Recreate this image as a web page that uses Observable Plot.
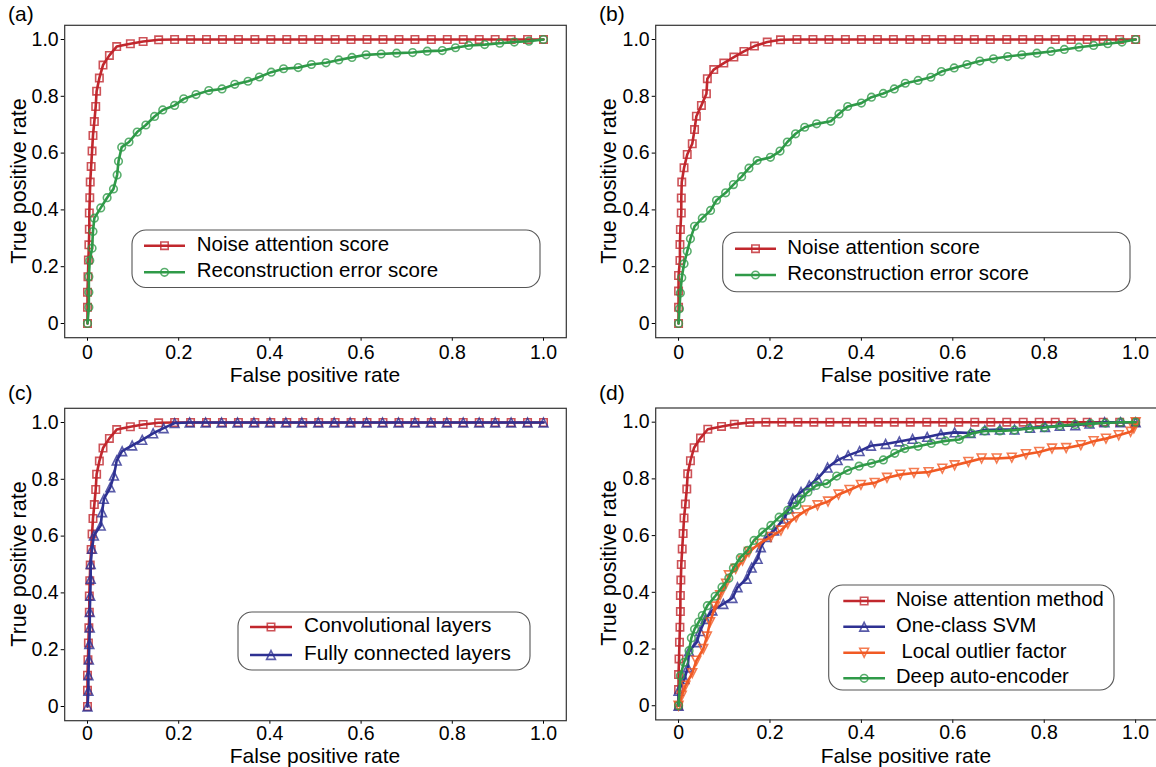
<!DOCTYPE html>
<html><head><meta charset="utf-8">
<script src="https://cdn.jsdelivr.net/npm/d3@7"></script>
<script src="https://cdn.jsdelivr.net/npm/@observablehq/plot@0.6"></script>
<style>
html,body{margin:0;padding:0;background:#fff;}
#root{position:relative;width:1156px;height:767px;overflow:hidden;font-family:"Liberation Sans",Arial,sans-serif;}
</style></head><body><div id="root"></div>
<script>
// ---------- data ----------
const xTicks = [0, 0.2, 0.4, 0.6, 0.8, 1.0];
const yTicks = [0, 0.2, 0.4, 0.6, 0.8, 1.0];

// Noise attention score (panels a, c, d)
const noiseX = [0,0,0,0.001,0.002,0.003,0.004,0.004,0.005,0.006,0.008,0.010,0.012,0.015,0.018,0.020,0.026,0.034,0.048,0.064,0.094,0.122,0.156,0.191,0.226,0.261,0.296,0.331,0.367,0.402,0.437,0.472,0.507,0.543,0.578,0.613,0.648,0.683,0.718,0.754,0.789,0.824,0.859,0.894,0.929,0.965,1.000];
const noiseY = [0,0.057,0.110,0.165,0.224,0.277,0.332,0.389,0.443,0.498,0.553,0.607,0.662,0.711,0.764,0.818,0.864,0.910,0.944,0.975,0.985,0.993,0.999,1,1,1,1,1,1,1,1,1,1,1,1,1,1,1,1,1,1,1,1,1,1,1,1];
// Reconstruction error score (panel a)
const recAX = [0,0.003,0.003,0.003,0.005,0.010,0.012,0.015,0.029,0.043,0.057,0.065,0.068,0.075,0.091,0.109,0.128,0.147,0.165,0.191,0.211,0.238,0.266,0.295,0.323,0.352,0.377,0.403,0.430,0.462,0.491,0.523,0.551,0.580,0.611,0.644,0.678,0.713,0.745,0.778,0.807,0.836,0.871,0.904,0.936,0.968,1.000];
const recAY = [0,0.057,0.110,0.165,0.222,0.265,0.324,0.371,0.407,0.443,0.474,0.523,0.571,0.621,0.639,0.674,0.699,0.729,0.752,0.768,0.791,0.806,0.820,0.826,0.842,0.853,0.868,0.885,0.897,0.901,0.912,0.918,0.928,0.937,0.946,0.949,0.952,0.954,0.959,0.961,0.971,0.979,0.982,0.987,0.991,0.994,1.000];
// Noise attention score (panel b)
const noiseBX = [0,0,0,0,0.003,0.003,0.004,0.006,0.006,0.007,0.012,0.019,0.030,0.035,0.039,0.050,0.061,0.063,0.077,0.099,0.121,0.143,0.166,0.194,0.223,0.259,0.294,0.329,0.365,0.400,0.435,0.470,0.506,0.541,0.576,0.612,0.647,0.682,0.718,0.753,0.788,0.824,0.859,0.894,0.929,0.965,1.000];
const noiseBY = [0,0.057,0.114,0.169,0.222,0.278,0.331,0.389,0.442,0.498,0.548,0.595,0.633,0.683,0.730,0.768,0.809,0.862,0.894,0.917,0.938,0.958,0.977,0.991,0.999,1,1,1,1,1,1,1,1,1,1,1,1,1,1,1,1,1,1,1,1,1,1];
// Reconstruction error score (panel b)
const recBX = [0,0.002,0.004,0.007,0.012,0.019,0.026,0.035,0.052,0.070,0.083,0.103,0.120,0.138,0.154,0.172,0.201,0.222,0.238,0.256,0.276,0.302,0.333,0.351,0.370,0.400,0.422,0.448,0.472,0.496,0.524,0.552,0.575,0.603,0.631,0.659,0.689,0.720,0.751,0.784,0.815,0.844,0.876,0.908,0.939,0.970,1.000];
const recBY = [0,0.052,0.107,0.161,0.210,0.254,0.298,0.342,0.371,0.398,0.434,0.460,0.489,0.517,0.547,0.574,0.585,0.607,0.639,0.668,0.691,0.703,0.712,0.738,0.764,0.776,0.797,0.810,0.826,0.846,0.856,0.867,0.887,0.900,0.912,0.924,0.932,0.940,0.946,0.952,0.958,0.965,0.973,0.979,0.985,0.991,1.000];
// Fully connected layers (panel c)
const fcX = [0,0.002,0.002,0.003,0.004,0.005,0.005,0.006,0.007,0.007,0.010,0.014,0.029,0.032,0.036,0.050,0.058,0.064,0.076,0.098,0.120,0.144,0.167,0.191,0.224,0.259,0.294,0.329,0.365,0.400,0.435,0.470,0.506,0.541,0.576,0.612,0.647,0.682,0.718,0.753,0.788,0.824,0.859,0.894,0.929,0.965,1.000];
const fcY = [0,0.055,0.110,0.165,0.220,0.278,0.333,0.390,0.450,0.502,0.555,0.602,0.637,0.684,0.731,0.772,0.813,0.866,0.899,0.919,0.939,0.962,0.980,0.998,1,1,1,1,1,1,1,1,1,1,1,1,1,1,1,1,1,1,1,1,1,1,1];
// One-class SVM (panel d)
const svmX = [0,0,0.013,0.020,0.023,0.040,0.047,0.059,0.074,0.098,0.118,0.129,0.149,0.160,0.173,0.180,0.193,0.209,0.231,0.242,0.250,0.268,0.286,0.304,0.326,0.348,0.371,0.396,0.421,0.453,0.483,0.512,0.544,0.574,0.604,0.639,0.670,0.703,0.735,0.769,0.802,0.834,0.868,0.899,0.932,0.967,1.000];
const svmY = [0,0.053,0.094,0.135,0.192,0.224,0.263,0.306,0.336,0.359,0.380,0.418,0.448,0.487,0.518,0.559,0.595,0.618,0.660,0.695,0.730,0.754,0.777,0.801,0.840,0.866,0.883,0.898,0.917,0.923,0.932,0.941,0.948,0.958,0.964,0.962,0.972,0.974,0.974,0.980,0.983,0.987,0.989,0.995,1.000,1.000,1.000];
// Local outlier factor (panel d)
const lofX = [0,0.007,0.015,0.030,0.039,0.054,0.062,0.069,0.080,0.091,0.104,0.110,0.125,0.140,0.154,0.176,0.202,0.224,0.239,0.257,0.279,0.304,0.327,0.350,0.374,0.399,0.429,0.456,0.485,0.515,0.547,0.577,0.604,0.634,0.663,0.696,0.729,0.760,0.789,0.817,0.848,0.880,0.908,0.935,0.963,0.989,0.996,1.000];
const lofY = [0,0.035,0.071,0.115,0.159,0.200,0.244,0.295,0.350,0.390,0.430,0.460,0.483,0.512,0.542,0.571,0.595,0.618,0.642,0.665,0.689,0.707,0.720,0.745,0.761,0.779,0.786,0.804,0.815,0.821,0.824,0.836,0.848,0.860,0.872,0.872,0.875,0.887,0.895,0.907,0.909,0.919,0.933,0.942,0.954,0.966,0.978,1.000];
// Deep auto-encoder (panel d)
const daeX = [0,0.004,0.012,0.023,0.028,0.035,0.044,0.052,0.063,0.080,0.095,0.110,0.120,0.135,0.151,0.165,0.184,0.202,0.220,0.239,0.259,0.268,0.283,0.301,0.324,0.346,0.370,0.395,0.422,0.448,0.473,0.495,0.524,0.553,0.584,0.614,0.641,0.670,0.703,0.735,0.767,0.800,0.834,0.868,0.901,0.934,0.967,1.000];
const daeY = [0,0.106,0.153,0.194,0.239,0.270,0.295,0.318,0.353,0.386,0.418,0.450,0.486,0.522,0.548,0.583,0.612,0.636,0.665,0.689,0.707,0.730,0.754,0.777,0.783,0.810,0.830,0.845,0.855,0.867,0.890,0.907,0.915,0.925,0.934,0.939,0.960,0.969,0.969,0.972,0.978,0.981,0.987,0.992,0.995,0.997,1.000,1.000];

// ---------- styles ----------
const FONT = '"Liberation Sans", Arial, sans-serif';
const RED = "#c1272d", GREEN = "#2f9a48", NAVY = "#2e3192", ORANGE = "#f15a24";
const tickLabel = d => d === 0 ? "0" : d.toFixed(1);

function sym(kind) {
  return {draw(ctx, size) {
    const h = Math.sqrt(size / Math.PI);
    if (kind === "square") ctx.rect(-h, -h, 2 * h, 2 * h);
    else if (kind === "circle") { ctx.moveTo(h, 0); ctx.arc(0, 0, h, 0, 2 * Math.PI); }
    else if (kind === "up") { ctx.moveTo(0, -h); ctx.lineTo(h, h); ctx.lineTo(-h, h); ctx.closePath(); }
    else if (kind === "down") { ctx.moveTo(0, h); ctx.lineTo(h, -h); ctx.lineTo(-h, -h); ctx.closePath(); }
  }};
}
const SER = {
  noise: (x, y) => ({x, y, color: RED, marker: "square", r: 3.7}),
  rec: (x, y) => ({x, y, color: GREEN, marker: "circle", r: 3.8}),
  fc: (x, y) => ({x, y, color: NAVY, marker: "up", r: 4.4}),
  lof: (x, y) => ({x, y, color: ORANGE, marker: "down", r: 4.4})
};

const root = document.getElementById("root");

function panel(g, series) {
  const marks = [
    Plot.axisX({ticks: xTicks, tickFormat: tickLabel, tickSize: 3.5, tickPadding: g.xPad, fontSize: 19.5, label: null}),
    Plot.axisY({ticks: yTicks, tickFormat: tickLabel, tickSize: 3.5, tickPadding: 2.5, fontSize: 19.5, label: null})
  ];
  for (const s of series) {
    const rows = s.x.map((x, i) => ({fpr: x, tpr: s.y[i]}));
    marks.push(Plot.line(rows, {x: "fpr", y: "tpr", stroke: s.color, strokeWidth: 2.6}));
    marks.push(Plot.dot(rows, {x: "fpr", y: "tpr", symbol: sym(s.marker), r: s.r, stroke: s.color, strokeWidth: 1.6, strokeOpacity: 0.8, fill: "none"}));
  }
  marks.push(Plot.frame({stroke: "#333", strokeWidth: 1.2}));
  const svg = Plot.plot({
    width: g.width, height: g.height,
    marginLeft: g.mL, marginRight: g.mR, marginTop: g.mT, marginBottom: g.mB,
    x: {domain: [-0.05, 1.05]}, y: {domain: [-0.05, 1.05]},
    style: {fontFamily: FONT, fontSize: "19.5px", color: "#000", background: "transparent", overflow: "visible"},
    marks
  });
  svg.style.position = "absolute";
  svg.style.left = g.left + "px";
  svg.style.top = g.top + "px";
  root.appendChild(svg);
}

panel({left: 0, top: 0, width: 580, height: 383, mL: 64.2, mR: 14.2, mT: 24.8, mB: 45.8, xPad: 4},
  [SER.noise(noiseX, noiseY), SER.rec(recAX, recAY)]);
panel({left: 580, top: 0, width: 578, height: 383, mL: 75.2, mR: 0, mT: 24.8, mB: 45.8, xPad: 4},
  [SER.noise(noiseBX, noiseBY), SER.rec(recBX, recBY)]);
panel({left: 0, top: 383, width: 580, height: 384, mL: 64.2, mR: 14.2, mT: 24.8, mB: 46.8, xPad: 2},
  [SER.noise(noiseX, noiseY), SER.fc(fcX, fcY)]);
panel({left: 580, top: 383, width: 578, height: 384, mL: 75.2, mR: 0, mT: 24.5, mB: 47.6, xPad: 2},
  [SER.noise(noiseX, noiseY), SER.fc(svmX, svmY), SER.lof(lofX, lofY), SER.rec(daeX, daeY)]);

// ---------- overlay: titles, panel letters, legends ----------
const ov = d3.create("svg").attr("width", 1156).attr("height", 767)
  .style("position", "absolute").style("left", "0px").style("top", "0px")
  .style("font-family", FONT);

const xTitles = [[315, 382], [906, 382], [315, 763], [906, 763]];
const yTitles = [[26, 181], [616, 181], [26, 564], [616, 563]];
for (const [x, y] of xTitles)
  ov.append("text").attr("x", x).attr("y", y).attr("text-anchor", "middle").attr("font-size", 21).text("False positive rate");
for (const [x, y] of yTitles)
  ov.append("text").attr("transform", `translate(${x},${y}) rotate(-90)`).attr("text-anchor", "middle").attr("font-size", 21.5).text("True positive rate");
for (const [t, x, y] of [["(a)", 8, 21], ["(b)", 599, 21], ["(c)", 8, 400], ["(d)", 599, 400]])
  ov.append("text").attr("x", x).attr("y", y).attr("font-size", 21).text(t);

const legends = [
  {box: [132, 230, 540, 287.5], rows: [245.7, 272.3], line: [144, 185], textX: 196.7, fs: 20.5,
   items: [["Noise attention score", SER.noise()], ["Reconstruction error score", SER.rec()]]},
  {box: [722.7, 232.3, 1130, 291.7], rows: [248.7, 275], line: [735, 776], textX: 787.3, fs: 20.5,
   items: [["Noise attention score", SER.noise()], ["Reconstruction error score", SER.rec()]]},
  {box: [238, 612, 530, 670], rows: [627, 655], line: [250, 292], textX: 304, fs: 20.8,
   items: [["Convolutional layers", SER.noise()], ["Fully connected layers", SER.fc()]]},
  {box: [828.7, 585, 1114, 690], rows: [601, 626.7, 652.7, 678.3], line: [843.3, 885], textX: 896, fs: 20.2,
   items: [["Noise attention method", SER.noise()], ["One-class SVM", SER.fc()], [" Local outlier factor", SER.lof()], ["Deep auto-encoder", SER.rec()]]}
];
for (const L of legends) {
  const [l, t, r, b] = L.box;
  ov.append("rect").attr("x", l).attr("y", t).attr("width", r - l).attr("height", b - t)
    .attr("rx", 14).attr("fill", "#fff").attr("fill-opacity", 0.9).attr("stroke", "#555").attr("stroke-width", 1.1);
  L.items.forEach(([label, s], i) => {
    const cy = L.rows[i];
    ov.append("line").attr("x1", L.line[0]).attr("x2", L.line[1]).attr("y1", cy).attr("y2", cy)
      .attr("stroke", s.color).attr("stroke-width", 2.6);
    ov.append("path").attr("transform", `translate(${(L.line[0] + L.line[1]) / 2},${cy})`)
      .attr("d", d3.symbol(sym(s.marker), s.r * s.r * Math.PI)())
      .attr("fill", "none").attr("stroke", s.color).attr("stroke-width", 1.6).attr("stroke-opacity", 0.8);
    ov.append("text").attr("x", L.textX).attr("y", cy + 5).attr("font-size", L.fs)
      .style("white-space", "pre").text(label);
  });
}
root.appendChild(ov.node());
</script></body></html>
